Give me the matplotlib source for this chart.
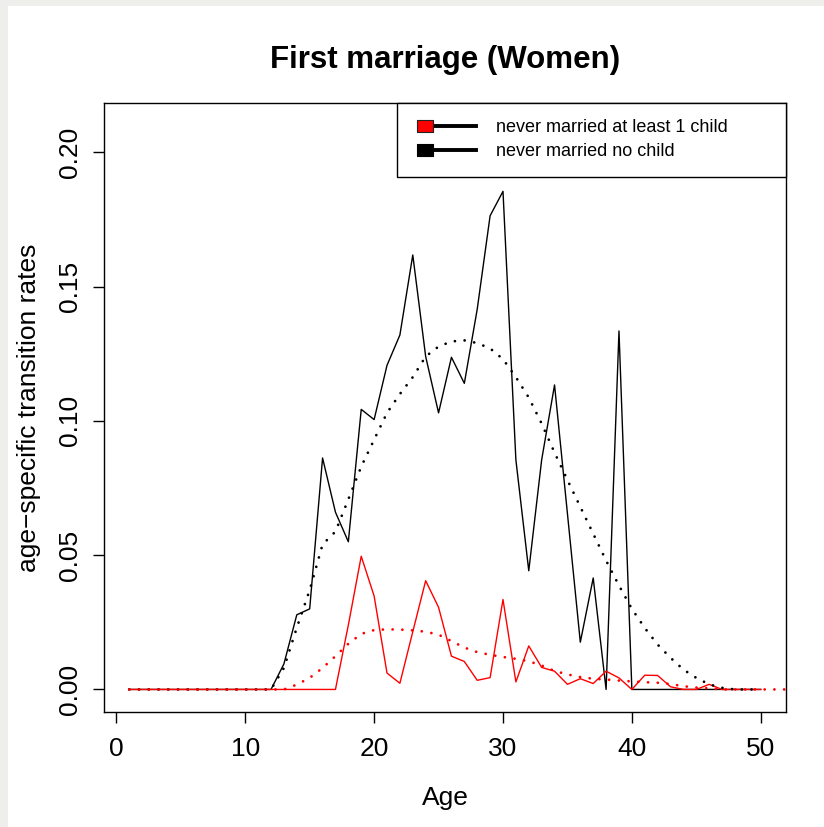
import numpy as np
import matplotlib
matplotlib.use("Agg")
import matplotlib.pyplot as plt
from matplotlib.lines import Line2D
from matplotlib.patches import Rectangle
from matplotlib.legend_handler import HandlerLine2D

plt.rcParams["font.family"] = ["Liberation Sans", "DejaVu Sans"]

# age-specific first marriage rates, women
ages = list(range(1, 51))

no_child = [0.0] * 12 + [
    0.0095, 0.0278, 0.0300, 0.0862, 0.0660, 0.0550, 0.1043, 0.1005,   # 13-20
    0.1207, 0.1320, 0.1618, 0.1240, 0.1030, 0.1237, 0.1140, 0.1416,   # 21-28
    0.1764, 0.1855, 0.0855, 0.0442, 0.0855, 0.1134, 0.0655, 0.0176,   # 29-36
    0.0415, 0.0000, 0.1335, 0.0000,                                   # 37-40
] + [0.0] * 10

one_child = [0.0] * 17 + [
    0.0240, 0.0496, 0.0348, 0.0061, 0.0023, 0.0215, 0.0405, 0.0306,   # 18-25
    0.0124, 0.0104, 0.0034, 0.0044, 0.0335, 0.0028, 0.0162, 0.0082,   # 26-33
    0.0068, 0.0019, 0.0040, 0.0022, 0.0068, 0.0043, 0.0000, 0.0053,   # 34-41
    0.0052, 0.0010, 0.0000, 0.0000, 0.0019,                           # 42-46
] + [0.0] * 4

# fitted curves (dotted)
fit_ages_nc = list(range(1, 51))
fit_no_child = [0.0] * 12 + [
    0.0080, 0.0230, 0.0370, 0.0540, 0.0588, 0.0708, 0.0830, 0.0930,   # 13-20
    0.1030, 0.1100, 0.1163, 0.1240, 0.1277, 0.1296, 0.1300, 0.1290,   # 21-28
    0.1270, 0.1230, 0.1163, 0.1087, 0.0990, 0.0882, 0.0780, 0.0680,   # 29-36
    0.0580, 0.0480, 0.0387, 0.0300, 0.0229, 0.0167, 0.0118, 0.0074,   # 37-44
    0.0043, 0.0019, 0.0006, 0.0, 0.0, 0.0,                            # 45-50
]

fit_ages_oc = list(range(1, 56))
fit_one_child = [0.0] * 13 + [
    0.0018, 0.0043, 0.0080, 0.0124, 0.0170, 0.0207, 0.0221, 0.0224,   # 14-21
    0.0223, 0.0220, 0.0215, 0.0204, 0.0180, 0.0156, 0.0139, 0.0129,   # 22-29
    0.0121, 0.0114, 0.0105, 0.0089, 0.0069, 0.0056, 0.0046, 0.0040,   # 30-37
    0.0037, 0.0033, 0.0030, 0.0027, 0.0025, 0.0020, 0.0012, 0.0007,   # 38-45
    0.0004,                                                           # 46
] + [0.0] * 9

legend_labels = ["never married at least 1 child", "never married no child"]


# legend entry: box marker on the left end of a thick line
class LeftMarkerHandler(HandlerLine2D):
    def create_artists(self, legend, orig_handle, xdescent, ydescent,
                       width, height, fontsize, trans):
        arts = super().create_artists(legend, orig_handle, xdescent, ydescent,
                                      width, height, fontsize, trans)
        for a in arts:
            a.set_markevery([0])
        return arts


fig = plt.figure(figsize=(8.24, 8.27), dpi=100, facecolor="#eeeeea")
fig.patches.append(Rectangle((8 / 824, 0), 1, 1 - 6 / 827, transform=fig.transFigure,
                             facecolor="white", edgecolor="none", zorder=-10))
ax = fig.add_axes([104 / 824, 1 - 712 / 827, 682 / 824, 609 / 827])

ax.plot(ages, no_child, color="black", lw=1.0)
ax.plot(ages, one_child, color="red", lw=1.0)
dots = (0, (0.01, 3.5))
ax.plot(fit_ages_nc, fit_no_child, color="black", lw=2.0, linestyle=dots,
        dash_capstyle="round")
ax.plot(fit_ages_oc, fit_one_child, color="red", lw=2.0, linestyle=dots,
        dash_capstyle="round")

ax.set_xlim(-0.96, 51.96)
ax.set_ylim(-0.0084, 0.2184)
ax.set_xticks([0, 10, 20, 30, 40, 50])
ax.set_yticks([0.0, 0.05, 0.10, 0.15, 0.20])
ax.set_yticklabels(["0.00", "0.05", "0.10", "0.15", "0.20"], rotation=90, va="center")
ax.tick_params(direction="out", length=8, width=1, labelsize=19)
ax.tick_params(axis="x", pad=10)
ax.tick_params(axis="y", pad=8)
for s in ax.spines.values():
    s.set_linewidth(1)

ax.set_xlabel("Age", fontsize=19, labelpad=18)
ax.set_ylabel("age\u2212specific transition rates", fontsize=19, labelpad=12)
ax.set_title("First marriage (Women)", fontsize=22.5, fontweight="bold", pad=25)

box = [(-1, -0.7), (1, -0.7), (1, 0.7), (-1, 0.7), (-1, -0.7)]
handles = [
    Line2D([], [], color="black", lw=2.8, marker=box, markersize=11.5,
           markerfacecolor="red", markeredgecolor="#222222", markeredgewidth=0.8),
    Line2D([], [], color="black", lw=2.8, marker=box, markersize=11.5,
           markerfacecolor="black", markeredgecolor="black", markeredgewidth=0.8),
]
leg = ax.legend(handles, legend_labels, loc="upper left", mode="expand",
                bbox_to_anchor=(0.4296, 0.8818, 0.5704, 0.1182), borderaxespad=0,
                fontsize=13, numpoints=2, handlelength=4.15, handletextpad=0.45,
                fancybox=False, edgecolor="black", framealpha=1, labelspacing=0.4,
                borderpad=0.9,
                handler_map={Line2D: LeftMarkerHandler(marker_pad=0.66)})
leg.get_frame().set_linewidth(1)

fig.savefig("out.png", dpi=100, facecolor=fig.get_facecolor())
